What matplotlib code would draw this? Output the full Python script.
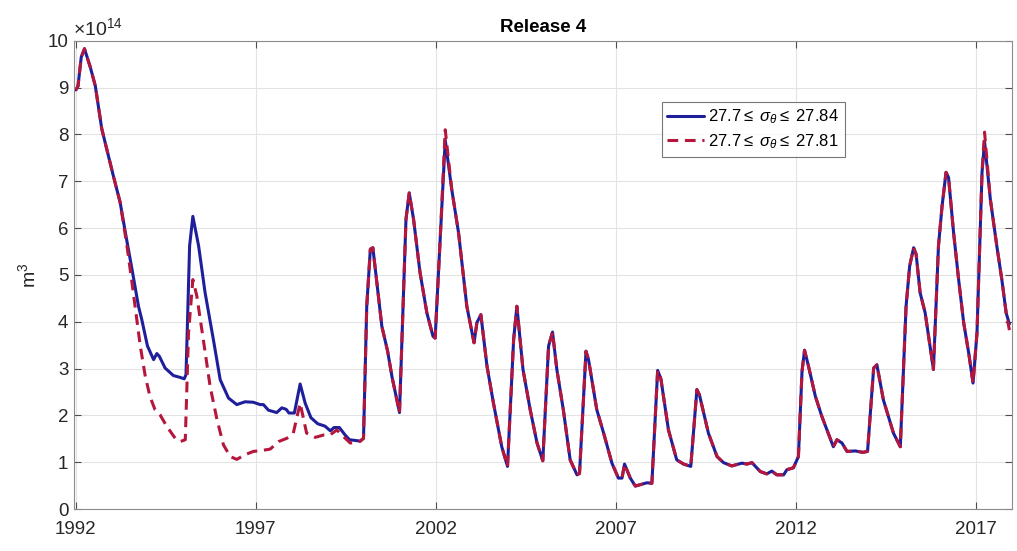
import matplotlib.pyplot as plt
import numpy as np

plt.rcParams['font.family'] = ['Liberation Sans', 'DejaVu Sans']
plt.rcParams['mathtext.fontset'] = 'custom'
plt.rcParams['mathtext.rm'] = 'Liberation Sans'
plt.rcParams['mathtext.it'] = 'Liberation Sans:italic'

# Volume in 27.7 <= sigma_theta <= 27.84 (solid), units 1e14 m^3
blue_t = [1992.00, 1992.06, 1992.15, 1992.24, 1992.40, 1992.54, 1992.72, 1993.04, 1993.23, 1993.40,
          1993.56, 1993.74, 1993.83, 1993.99, 1994.16, 1994.25, 1994.32, 1994.48, 1994.71, 1994.90,
          1995.01, 1995.06, 1995.16, 1995.25, 1995.41, 1995.59, 1995.82, 1996.01, 1996.24, 1996.47,
          1996.70, 1996.93, 1997.12, 1997.21, 1997.35, 1997.58, 1997.72, 1997.84, 1997.92, 1998.07,
          1998.23, 1998.37, 1998.53, 1998.72, 1998.92, 1999.07, 1999.17, 1999.32, 1999.48, 1999.60,
          1999.90, 1999.99, 2000.08, 2000.18, 2000.25, 2000.50, 2000.66, 2000.78, 2000.99, 2001.17,
          2001.26, 2001.38, 2001.56, 2001.75, 2001.92, 2001.98, 2002.12, 2002.26, 2002.44, 2002.63,
          2002.86, 2003.06, 2003.14, 2003.25, 2003.42, 2003.60, 2003.83, 2003.99, 2004.16, 2004.25,
          2004.42, 2004.62, 2004.81, 2004.97, 2005.13, 2005.24, 2005.36, 2005.54, 2005.73, 2005.92,
          2005.99, 2006.17, 2006.24, 2006.47, 2006.66, 2006.89, 2007.07, 2007.17, 2007.24, 2007.40,
          2007.54, 2007.72, 2007.86, 2008.00, 2008.16, 2008.25, 2008.46, 2008.69, 2008.88, 2009.08,
          2009.25, 2009.32, 2009.57, 2009.81, 2009.99, 2010.22, 2010.50, 2010.64, 2010.78, 2011.01,
          2011.19, 2011.33, 2011.47, 2011.66, 2011.75, 2011.93, 2012.07, 2012.17, 2012.24, 2012.35,
          2012.54, 2012.72, 2012.93, 2013.04, 2013.14, 2013.28, 2013.42, 2013.65, 2013.86, 2013.99,
          2014.16, 2014.25, 2014.43, 2014.71, 2014.90, 2015.06, 2015.16, 2015.27, 2015.34, 2015.45,
          2015.59, 2015.82, 2015.96, 2016.06, 2016.17, 2016.24, 2016.38, 2016.52, 2016.66, 2016.80,
          2016.92, 2017.03, 2017.17, 2017.24, 2017.40, 2017.58, 2017.72, 2017.84, 2017.93]
blue_v = [8.95, 9.03, 9.65, 9.83, 9.44, 9.04, 8.12, 7.12, 6.55, 5.80,
          5.12, 4.33, 4.05, 3.48, 3.19, 3.32, 3.26, 3.01, 2.85, 2.81,
          2.78, 2.87, 5.62, 6.25, 5.62, 4.62, 3.62, 2.76, 2.37, 2.23,
          2.29, 2.28, 2.23, 2.23, 2.11, 2.06, 2.16, 2.13, 2.05, 2.05,
          2.67, 2.26, 1.95, 1.82, 1.77, 1.67, 1.74, 1.74, 1.58, 1.48,
          1.45, 1.51, 4.33, 5.55, 5.58, 3.90, 3.37, 2.83, 2.06, 6.19,
          6.75, 6.19, 5.05, 4.19, 3.69, 3.65, 5.76, 7.88, 6.83, 5.90,
          4.33, 3.55, 3.98, 4.15, 3.05, 2.26, 1.33, 0.91, 3.62, 4.33,
          2.98, 2.12, 1.41, 1.03, 3.48, 3.78, 2.98, 2.12, 1.05, 0.73,
          0.76, 3.37, 3.19, 2.12, 1.62, 0.98, 0.66, 0.66, 0.96, 0.66,
          0.49, 0.53, 0.56, 0.55, 2.96, 2.78, 1.69, 1.05, 0.96, 0.91,
          2.55, 2.44, 1.62, 1.12, 0.99, 0.92, 0.98, 0.96, 0.99, 0.80,
          0.75, 0.81, 0.73, 0.73, 0.84, 0.88, 1.12, 2.94, 3.39, 3.05,
          2.41, 1.98, 1.55, 1.33, 1.48, 1.41, 1.23, 1.24, 1.21, 1.23,
          3.01, 3.08, 2.33, 1.62, 1.33, 4.33, 5.19, 5.58, 5.44, 4.62,
          4.19, 2.98, 5.62, 6.47, 7.19, 7.08, 5.90, 4.90, 3.98, 3.33,
          2.69, 3.76, 7.19, 7.85, 6.62, 5.62, 4.90, 4.19, 3.95]

# 27.7 <= sigma_theta <= 27.81 (dashed): differs from the solid line 1993-2000
red_mid_t = [1993.42, 1993.56, 1993.67, 1993.79, 1993.93, 1994.06, 1994.20, 1994.34, 1994.53, 1994.76,
             1994.90, 1995.04, 1995.13, 1995.25, 1995.36, 1995.54, 1995.73, 1995.92, 1996.10, 1996.29,
             1996.47, 1996.70, 1996.93, 1997.17, 1997.40, 1997.63, 1997.86, 1998.04, 1998.23, 1998.41,
             1998.65, 1998.88, 1999.06, 1999.25, 1999.43, 1999.62, 1999.80]
red_mid_v = [5.62, 4.83, 4.19, 3.48, 2.83, 2.40, 2.12, 2.01, 1.76, 1.51,
             1.44, 1.48, 3.76, 4.90, 4.55, 3.62, 2.62, 1.91, 1.37, 1.12,
             1.06, 1.16, 1.23, 1.25, 1.28, 1.44, 1.51, 1.62, 2.26, 1.62,
             1.53, 1.58, 1.58, 1.69, 1.55, 1.41, 1.42]
# points where the dashed line sits a little off the solid one
red_fix_t = [2002.26, 2017.24, 2017.93]
red_fix_v = [8.10, 8.05, 3.82]

blue_t = np.array(blue_t)
blue_v = np.array(blue_v)
early = blue_t < 1993.35
late = blue_t >= 1999.90
red_t = np.concatenate([blue_t[early], red_mid_t, blue_t[late]])
red_v = np.concatenate([blue_v[early], red_mid_v, blue_v[late]])
for t, v in zip(red_fix_t, red_fix_v):
    red_v[np.isclose(red_t, t)] = v

fig = plt.figure(figsize=(10.17, 5.51), dpi=100)
ax = fig.add_axes([0.0728, 0.0762, 0.9222, 0.8498])

ax.plot(blue_t, blue_v * 1e14, color='#1f1f9c', linewidth=2.2,
        solid_joinstyle='round', solid_capstyle='round',
        label=r'27.7$\leq$ $\sigma_\theta$$\leq$ 27.84')
ax.plot(red_t, red_v * 1e14, color='#b5173c', linewidth=2.2, linestyle=(0, (3.5, 2.2)),
        dash_joinstyle='round', dash_capstyle='butt',
        label=r'27.7$\leq$ $\sigma_\theta$$\leq$ 27.81')

ax.set_xlim(1991.95, 2018.0)
ax.set_ylim(0, 10e14)
ax.set_xticks([1992, 1997, 2002, 2007, 2012, 2017])
ax.set_yticks(np.arange(0, 11) * 1e14)
ax.set_yticklabels([str(i) for i in range(11)])
ax.grid(True, color='#e3e3e3', linewidth=0.8)
ax.set_axisbelow(True)
ax.tick_params(direction='in', top=True, right=True, length=5, width=0.8,
               colors='#4d4d4d', labelcolor='#262626', labelsize=13.5)
ax.tick_params(axis='x', pad=8.5)
ax.tick_params(axis='y', pad=4)
for s in ax.spines.values():
    s.set_color('#8c8c8c')
    s.set_linewidth(0.8)

ax.text(-0.001, 1.004, r'$\times10^{14}$', transform=ax.transAxes, fontsize=14,
        color='#262626', ha='left', va='bottom')
ax.set_ylabel('m$^3$', fontsize=14, color='#262626', labelpad=6)
ax.set_title('Release 4', fontsize=13.5, fontweight='bold', color='black', pad=6)

leg = ax.legend(loc='upper left', bbox_to_anchor=(0.6505, 0.8154),
                bbox_transform=fig.transFigure, fontsize=12, frameon=True,
                fancybox=False, borderaxespad=0, handlelength=2.2,
                handletextpad=0.25, borderpad=0.35, labelspacing=0.35)
leg.get_frame().set_edgecolor('#555555')
leg.get_frame().set_linewidth(0.8)

fig.savefig('out.png', dpi=100)
